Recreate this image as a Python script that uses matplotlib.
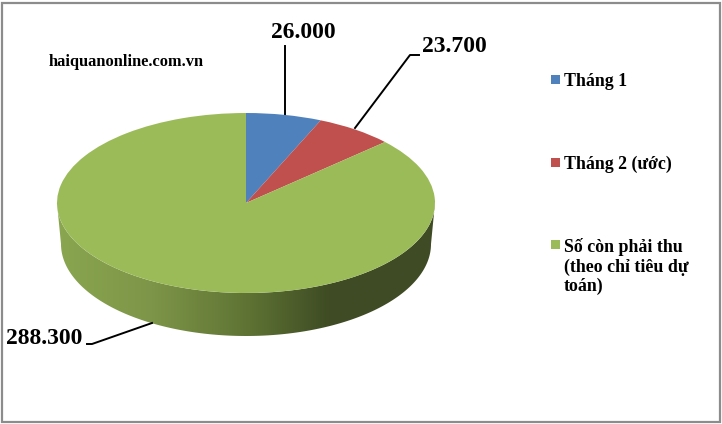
import numpy as np
import matplotlib
matplotlib.use("Agg")
from matplotlib import pyplot as plt
from matplotlib.colors import LinearSegmentedColormap
from matplotlib.patches import Polygon, Rectangle

categories = ["Tháng 1", "Tháng 2 (ước)", "Số còn phải thu\n(theo chỉ tiêu dự\ntoán)"]
values = [26000, 23700, 288300]
value_labels = ["26.000", "23.700", "288.300"]
source_text = "haiquanonline.com.vn"
colors = ["#4f81bd", "#c0504d", "#9bbb59"]

W, H = 722, 424
plt.rcParams["font.family"] = ["Liberation Serif", "DejaVu Serif"]
plt.rcParams["font.weight"] = "bold"

fig = plt.figure(figsize=(W / 100, H / 100), dpi=100, facecolor="white")

# main axes works in picture pixels, y going down
ax = fig.add_axes([0, 0, 1, 1])
ax.set_axis_off()

# side wall of the 3d disc, a gradient clipped to the band between two ellipses
t = np.linspace(np.pi, 0, 200)
top_x, top_y = 246 + 189 * np.cos(t), 203 + 90 * np.sin(t)
low_x, low_y = 246 + 185 * np.cos(t), 244 + 92 * np.sin(t)
wall = Polygon(np.column_stack([np.r_[top_x, low_x[::-1]], np.r_[top_y, low_y[::-1]]]),
               closed=True, facecolor="none", edgecolor="none")
ax.add_patch(wall)
wall_cmap = LinearSegmentedColormap.from_list(
    "wall", [(0, "#8aa650"), (0.25, "#7d9548"), (0.5, "#5f7434"), (0.72, "#3f4c24"), (1, "#3f4b24")])
img = ax.imshow(np.linspace(0, 1, 256)[None, :], extent=(57, 435, 350, 200), cmap=wall_cmap, aspect="auto")
img.set_clip_path(wall)
ax.set_xlim(0, W)
ax.set_ylim(H, 0)

# outer frame
ax.add_patch(Rectangle((2, 3), 717.5, 419, fill=False, edgecolor="#8c8c8c", linewidth=1.6))

# leader lines
ax.plot([285, 285], [46, 116], color="black", lw=1.4)
ax.plot([355, 410, 419], [128, 55, 55], color="black", lw=1.4)
ax.plot([87, 92, 152], [344, 344, 323], color="black", lw=1.4)

# value labels
ax.text(303.5, 33, value_labels[0], fontsize=17, ha="center", va="center")
ax.text(454.5, 46, value_labels[1], fontsize=17, ha="center", va="center")
ax.text(44, 338.5, value_labels[2], fontsize=17, ha="center", va="center")
ax.text(49, 61.5, source_text, fontsize=11.8, ha="left", va="center")

# legend, placed by hand
legend_y = [80, 163, 245]
for name, col, y in zip(categories, colors, legend_y):
    ax.add_patch(Rectangle((551, y - 5), 9, 9, facecolor=col, edgecolor="none"))
    ax.text(564, y - 7, name, fontsize=12.9, ha="left", va="top", linespacing=1.17)

# top face of the pie. the 3d projection squeezes the angles near the front,
# so slice ends are shifted the same way before the pie is drawn
squeeze = 0.82
ends = np.cumsum(values) / np.sum(values) * 2 * np.pi
shown = np.arctan2(squeeze * np.sin(ends), np.cos(ends)) % (2 * np.pi)
shown[-1] = 2 * np.pi
shown_sizes = np.diff(np.r_[0, shown])

pie_ax = fig.add_axes([57 / W, 1 - 293 / H, 378 / W, 180 / H])
pie_ax.pie(shown_sizes, colors=colors, startangle=90, counterclock=False, radius=1)
pie_ax.set_aspect("auto")
pie_ax.set_xlim(-1, 1)
pie_ax.set_ylim(-1, 1)
pie_ax.set_zorder(ax.get_zorder() + 1)
pie_ax.patch.set_alpha(0)

fig.savefig("out.png", dpi=100)
